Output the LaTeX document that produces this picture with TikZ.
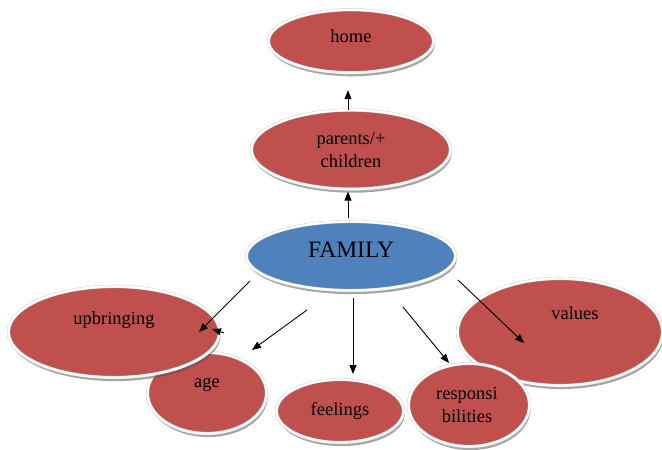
\documentclass[tikz,border=0pt]{standalone}
\usepackage{fontspec}
\setmainfont{Liberation Serif}
\usetikzlibrary{shapes,positioning,shadows,arrows.meta}
\definecolor{brick}{HTML}{C0504D}
\definecolor{steel}{HTML}{4F81BD}

\begin{document}
\begin{tikzpicture}
    [
      x=1pt, y=-1pt,
      blob/.style={ellipse, fill=brick, draw=black!20, double=white, double distance=2.4pt, inner sep=0pt,
        drop shadow={shadow xshift=1.2pt, shadow yshift=-3.6pt, fill=black!70}},
      txt/.style={font=\fontsize{18.5}{23}\selectfont, align=center},
      >={Triangle[length=9pt,width=7pt]}
    ]
    \useasboundingbox (0,0) rectangle (662,450);
    \node (age) [blob, minimum width=119pt, minimum height=81pt, label={[txt, yshift=8pt]center:age}] at (207,393) {};
    \node (upbringing) [blob, minimum width=211pt, minimum height=91pt, label={[txt, yshift=12pt]center:upbringing}] at (114,332) {};
    \node (feelings) [blob, minimum width=127pt, minimum height=63pt, label={[txt]center:feelings}] at (340,411) {};
    \node (values) [blob, minimum width=205pt, minimum height=107pt, label={[txt, xshift=15pt, yshift=19pt]center:values}] at (560,332) {};
    \node (responsibilities) [blob, minimum width=121pt, minimum height=83pt, label={[txt, xshift=-2pt]center:responsi\\bilities}] at (469,405) {};
    \node (family) [blob, fill=steel, minimum width=209pt, minimum height=69pt, label={[txt, font=\fontsize{23.5}{28}\selectfont, yshift=6pt]center:FAMILY}] at (351,256) {};
    \node (parents) [blob, above=32pt of family, minimum width=199pt, minimum height=79pt, label={[txt]center:parents/+\\children}] {};
    \node (home) [blob, above=37pt of parents, minimum width=165pt, minimum height=63pt, label={[txt, yshift=5pt]center:home}] {};
    \foreach \a/\ax/\ay/\b/\bx/\by in {family/-3/-38/parents/-3/42, parents/-3/-40/home/-3/49,
      family/-101/25/upbringing/85/0, family/-44/54/age/45/-43, family/2/42/feelings/13/-37,
      family/52/51/responsibilities/-20/-42, family/107/24/values/-36/11}
      \draw [->, line width=0.9pt] ([shift={(\ax,\ay)}]\a.center) -- ([shift={(\bx,\by)}]\b.center);
    \draw [->, line width=0.9pt] ([shift={(110,1)}]upbringing.center) -- ([shift={(98,-3)}]upbringing.center);
\end{tikzpicture}
\end{document}
